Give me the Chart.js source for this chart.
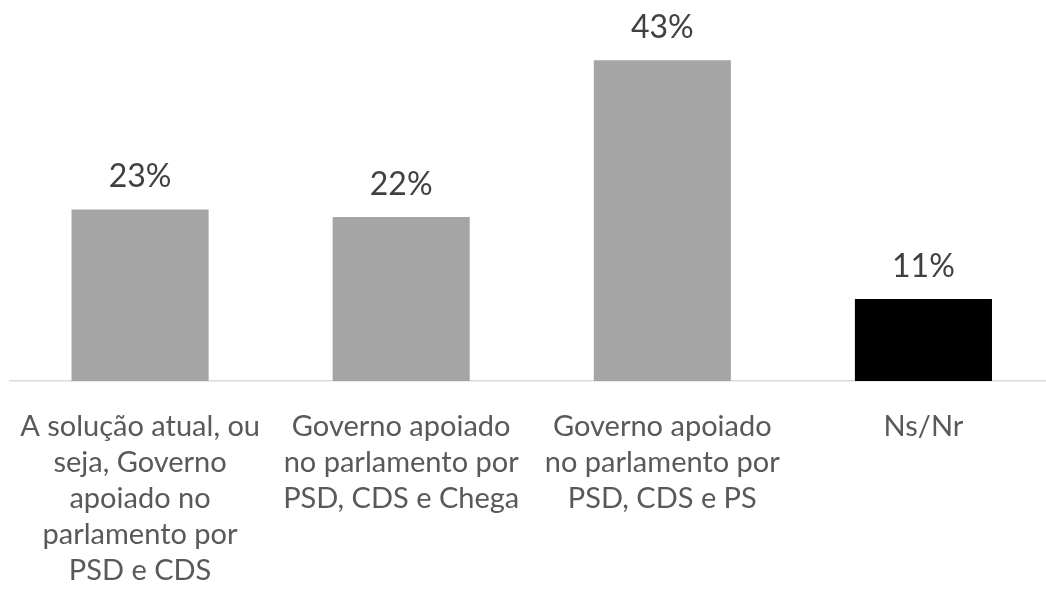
<!DOCTYPE html>
<html>
<head>
<meta charset="utf-8">
<script src="https://cdn.jsdelivr.net/npm/chart.js@4/dist/chart.umd.min.js"></script>
<style>
  html, body { margin: 0; padding: 0; background: #fff; overflow: hidden; }
  #wrap { width: 1054px; height: 590px; }
</style>
</head>
<body>
<div id="wrap"><canvas id="c"></canvas></div>
<script>
// ── data ──
const categorias = [
  ['A solução atual, ou', 'seja, Governo', 'apoiado no', 'parlamento por', 'PSD e CDS'],
  ['Governo apoiado', 'no parlamento por', 'PSD, CDS e Chega'],
  ['Governo apoiado', 'no parlamento por', 'PSD, CDS e PS'],
  ['Ns/Nr']
];
const valores = [23, 22, 43, 11];
const cores = ['#a5a5a5', '#a5a5a5', '#a5a5a5', '#000000'];

// rótulos de valor acima das barras
const rotulos = {
  id: 'rotulos',
  afterDatasetsDraw(chart) {
    const ctx = chart.ctx;
    const meta = chart.getDatasetMeta(0);
    ctx.save();
    ctx.font = '32px Lato';
    ctx.fillStyle = '#404040';
    ctx.textAlign = 'center';
    ctx.textBaseline = 'alphabetic';
    meta.data.forEach((bar, i) => {
      ctx.fillText(valores[i] + '%', bar.x, bar.y - 22);
    });
    ctx.restore();
  }
};

new Chart(document.getElementById('c'), {
  type: 'bar',
  data: {
    labels: categorias,
    datasets: [{
      data: valores,
      backgroundColor: cores,
      borderWidth: 0,
      barPercentage: 1,
      categoryPercentage: 0.525
    }]
  },
  options: {
    responsive: true,
    maintainAspectRatio: false,
    animation: false,
    layout: { padding: { left: 9.5, right: 0, top: 8, bottom: 0 } },
    plugins: { legend: { display: false }, tooltip: { enabled: false } },
    scales: {
      x: {
        grid: { display: false, drawTicks: false },
        border: { display: true, color: '#d9d9d9', width: 1.5 },
        ticks: {
          color: '#595959',
          font: { family: 'Lato', size: 29, lineHeight: 1.24 },
          padding: 28,
          maxRotation: 0,
          autoSkip: false
        },
        afterFit(s) { s.height = 209; s.paddingLeft = 0; s.paddingRight = 0; }
      },
      y: { display: false, min: 0, max: 50 }
    }
  },
  plugins: [rotulos]
});
</script>
</body>
</html>
